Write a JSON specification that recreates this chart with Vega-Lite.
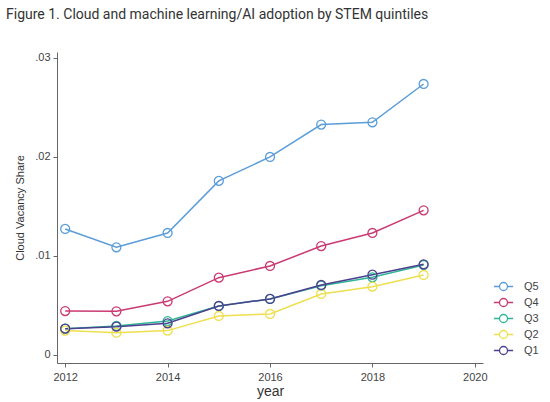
{
  "$schema": "https://vega.github.io/schema/vega-lite/v6.json",
  "width": 426,
  "height": 311,
  "autosize": {"type": "none"},
  "padding": {"left": 57, "top": 52, "right": 67, "bottom": 39},
  "background": "white",
  "title": {
    "text": "Figure 1. Cloud and machine learning/AI adoption by STEM quintiles",
    "anchor": "start",
    "frame": "group",
    "orient": "top",
    "font": "Roboto",
    "fontSize": 14,
    "fontWeight": "normal",
    "color": "#333333",
    "dx": -51,
    "offset": 30
  },
  "config": {
    "view": {"stroke": null},
    "axis": {
      "labelFont": "Liberation Sans",
      "titleFont": "Liberation Sans",
      "labelColor": "#444",
      "titleColor": "#333",
      "domainColor": "#666",
      "tickColor": "#666",
      "grid": false,
      "tickSize": 4
    }
  },
  "data": {
    "values": [
      {"year": 2012, "q": "Q5", "v": 0.01273},
      {"year": 2013, "q": "Q5", "v": 0.01088},
      {"year": 2014, "q": "Q5", "v": 0.01232},
      {"year": 2015, "q": "Q5", "v": 0.01758},
      {"year": 2016, "q": "Q5", "v": 0.0200},
      {"year": 2017, "q": "Q5", "v": 0.02327},
      {"year": 2018, "q": "Q5", "v": 0.0235},
      {"year": 2019, "q": "Q5", "v": 0.02737},
      {"year": 2012, "q": "Q4", "v": 0.00444},
      {"year": 2013, "q": "Q4", "v": 0.00441},
      {"year": 2014, "q": "Q4", "v": 0.00542},
      {"year": 2015, "q": "Q4", "v": 0.00781},
      {"year": 2016, "q": "Q4", "v": 0.00899},
      {"year": 2017, "q": "Q4", "v": 0.011},
      {"year": 2018, "q": "Q4", "v": 0.01232},
      {"year": 2019, "q": "Q4", "v": 0.01461},
      {"year": 2012, "q": "Q3", "v": 0.00266},
      {"year": 2013, "q": "Q3", "v": 0.00293},
      {"year": 2014, "q": "Q3", "v": 0.00343},
      {"year": 2015, "q": "Q3", "v": 0.00495},
      {"year": 2016, "q": "Q3", "v": 0.00566},
      {"year": 2017, "q": "Q3", "v": 0.0070},
      {"year": 2018, "q": "Q3", "v": 0.00785},
      {"year": 2019, "q": "Q3", "v": 0.00909},
      {"year": 2012, "q": "Q2", "v": 0.00246},
      {"year": 2013, "q": "Q2", "v": 0.00225},
      {"year": 2014, "q": "Q2", "v": 0.00246},
      {"year": 2015, "q": "Q2", "v": 0.00394},
      {"year": 2016, "q": "Q2", "v": 0.00414},
      {"year": 2017, "q": "Q2", "v": 0.00616},
      {"year": 2018, "q": "Q2", "v": 0.0069},
      {"year": 2019, "q": "Q2", "v": 0.00808},
      {"year": 2012, "q": "Q1", "v": 0.00266},
      {"year": 2013, "q": "Q1", "v": 0.00286},
      {"year": 2014, "q": "Q1", "v": 0.0032},
      {"year": 2015, "q": "Q1", "v": 0.00495},
      {"year": 2016, "q": "Q1", "v": 0.00566},
      {"year": 2017, "q": "Q1", "v": 0.00707},
      {"year": 2018, "q": "Q1", "v": 0.00811},
      {"year": 2019, "q": "Q1", "v": 0.00916}
    ]
  },
  "encoding": {
    "x": {
      "field": "year",
      "type": "quantitative",
      "scale": {"domain": [2011.84, 2020.16], "nice": false, "zero": false},
      "axis": {
        "values": [2012, 2014, 2016, 2018, 2020],
        "format": "d",
        "title": "year",
        "labelFontSize": 11,
        "labelPadding": 4,
        "titleFontSize": 14,
        "titleFontWeight": "normal",
        "titlePadding": 2
      }
    },
    "y": {
      "field": "v",
      "type": "quantitative",
      "scale": {"domain": [-0.00081, 0.0306], "nice": false, "zero": false},
      "axis": {
        "values": [0, 0.01, 0.02, 0.03],
        "labelExpr": "datum.value == 0 ? '0' : replace(format(datum.value, '.2f'), '0.', '.')",
        "title": "Cloud Vacancy Share",
        "labelFontSize": 11,
        "labelPadding": 3,
        "titleFontSize": 11,
        "titleFontWeight": "normal",
        "titlePadding": 9
      }
    },
    "color": {
      "field": "q",
      "type": "nominal",
      "scale": {
        "domain": ["Q5", "Q4", "Q3", "Q2", "Q1"],
        "range": ["#5b9dd9", "#c93a72", "#2fb597", "#eedf4e", "#4d3f8f"]
      },
      "legend": {
        "title": null,
        "orient": "none",
        "legendX": 441,
        "legendY": 229,
        "symbolType": "M -2.4 0 L -1 0 M 1 0 L 2.4 0 M -1 0 A 1 1 0 1 1 1 0 A 1 1 0 1 1 -1 0",
        "symbolSize": 64,
        "symbolStrokeWidth": 1.3,
        "symbolFillColor": "transparent",
        "labelFont": "Liberation Sans",
        "labelFontSize": 11,
        "labelColor": "#444",
        "labelOffset": 15,
        "rowPadding": 1
      }
    }
  },
  "layer": [
    {
      "mark": {"type": "line", "strokeWidth": 1.5}
    },
    {
      "mark": {"type": "point", "filled": false, "size": 80, "strokeWidth": 1.3, "opacity": 1}
    }
  ]
}
